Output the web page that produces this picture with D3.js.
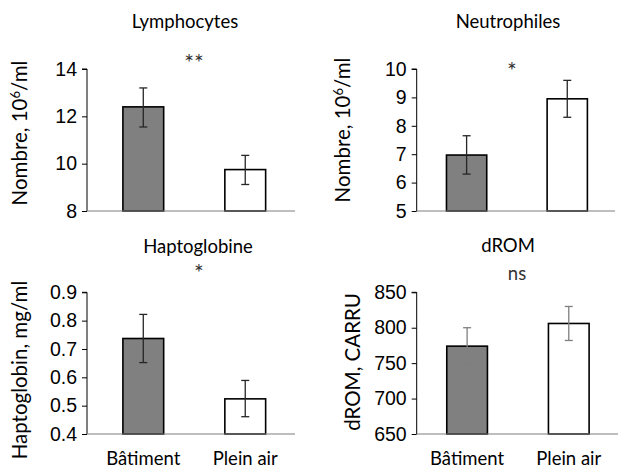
<!DOCTYPE html>
<html>
<head>
<meta charset="utf-8">
<script src="https://cdn.jsdelivr.net/npm/d3@7"></script>
<style>
  body { margin: 0; background: #fff; }
  svg { font-family: Lato, "Noto Sans", sans-serif; }
  .tick text { font-size: 19.5px; fill: #000; }
  .title { font-size: 18.5px; }
  .ylabel { font-size: 20.5px; }
  .xlabel { font-size: 18.5px; }
</style>
</head>
<body>
<div id="chart"></div>
<script>
// Data
const groups = ['Bâtiment', 'Plein air'];

const lymphoMean = [12.4, 9.75];
const lymphoLow = [11.55, 9.12];
const lymphoHigh = [13.2, 10.35];
const lymphoTicks = [8, 10, 12, 14];

const neutroMean = [6.97, 8.95];
const neutroLow = [6.3, 8.3];
const neutroHigh = [7.65, 9.6];
const neutroTicks = [5, 6, 7, 8, 9, 10];

const haptoMean = [0.737, 0.524];
const haptoLow = [0.652, 0.461];
const haptoHigh = [0.822, 0.589];
const haptoTicks = [0.4, 0.5, 0.6, 0.7, 0.8, 0.9];

const dromMean = [774, 806];
const dromLow = [748, 782];
const dromHigh = [800, 830];
const dromTicks = [650, 700, 750, 800, 850];

const width = 619;
const height = 470;

const barColours = ['#808080', '#ffffff'];

const svg = d3.select("#chart").append("svg")
    .attr("width", width)
    .attr("height", height)
    .attr("viewBox", [0, 0, width, height]);

function panel(p) {
  const x = d3.scaleBand()
      .domain(groups)
      .range([p.left, p.right])
      .paddingInner(0.6)
      .paddingOuter(p.padOuter)
      .align(p.align);

  const y = d3.scaleLinear()
      .domain(d3.extent(p.ticks))
      .range([p.bottom, p.top]);

  const g = svg.append("g");

  // y axis
  const yAxis = d3.axisLeft(y)
      .tickValues(p.ticks)
      .tickSize(5)
      .tickPadding(5)
      .tickFormat(p.format);

  g.append("g")
      .attr("transform", `translate(${p.left},0)`)
      .call(yAxis)
      .call(a => a.select(".domain").attr("stroke", "#000").attr("d", `M-5,${p.top}H0V${p.bottom}`))
      .call(a => a.selectAll(".tick line").attr("stroke", "#000"))
      .call(a => a.selectAll(".tick text").attr("font-family", null).attr("font-size", null));

  const rows = groups.map((name, i) => ({
    name: name,
    mean: p.mean[i],
    low: p.low[i],
    high: p.high[i],
    colour: barColours[i]
  }));

  // bars
  g.selectAll("rect.bar")
      .data(rows)
      .enter()
      .append("rect")
      .attr("class", "bar")
      .attr("x", d => x(d.name))
      .attr("width", x.bandwidth())
      .attr("y", d => y(d.mean))
      .attr("height", d => y(y.domain()[0]) - y(d.mean))
      .attr("fill", d => d.colour)
      .attr("stroke", "#000")
      .attr("stroke-width", 1.6);

  // x axis line
  g.append("line")
      .attr("x1", p.left)
      .attr("x2", p.axisEnd)
      .attr("y1", p.bottom)
      .attr("y2", p.bottom)
      .attr("stroke", "#7f7f7f")
      .attr("stroke-width", 1.2);

  // error bars
  const err = g.selectAll("g.err")
      .data(rows)
      .enter()
      .append("g")
      .attr("class", "err")
      .attr("stroke", p.errColour)
      .attr("stroke-width", 1.3);

  const cx = d => x(d.name) + x.bandwidth() / 2;
  err.append("line")
      .attr("x1", cx).attr("x2", cx)
      .attr("y1", d => y(d.low)).attr("y2", d => y(d.high));
  err.append("line")
      .attr("x1", d => cx(d) - 4).attr("x2", d => cx(d) + 4)
      .attr("y1", d => y(d.high)).attr("y2", d => y(d.high));
  err.append("line")
      .attr("x1", d => cx(d) - 4).attr("x2", d => cx(d) + 4)
      .attr("y1", d => y(d.low)).attr("y2", d => y(d.low));

  // titles
  g.append("text")
      .attr("class", "title")
      .attr("x", p.titleX)
      .attr("y", p.titleY)
      .attr("text-anchor", "middle")
      .text(p.title);

  g.append("text")
      .attr("x", p.sigX)
      .attr("y", p.sigY)
      .attr("text-anchor", "middle")
      .attr("font-size", p.sigSize)
      .attr("fill", "#333")
      .text(p.sig);

  // y label
  const yl = g.append("text")
      .attr("class", "ylabel")
      .attr("transform", `translate(${p.ylabelX},${p.ylabelY}) rotate(-90)`)
      .attr("text-anchor", "middle");
  yl.append("tspan").text(p.ylabel[0]);
  if (p.ylabel.length > 1) {
    yl.append("tspan").attr("dy", -7).attr("font-size", 13).text(p.ylabel[1]);
    yl.append("tspan").attr("dy", 7).text(p.ylabel[2]);
  }

  // x labels
  if (p.xlabels) {
    g.selectAll("text.xlabel")
        .data(rows)
        .enter()
        .append("text")
        .attr("class", "xlabel")
        .attr("x", cx)
        .attr("y", p.bottom + 31)
        .attr("text-anchor", "middle")
        .text(d => d.name);
  }
}

panel({
  left: 87, right: 295, axisEnd: 295, padOuter: 0.32, align: 0.55,
  top: 69, bottom: 211,
  mean: lymphoMean, low: lymphoLow, high: lymphoHigh, ticks: lymphoTicks,
  format: d3.format("d"), errColour: "#262626",
  title: "Lymphocytes", titleX: 185, titleY: 28,
  sig: "**", sigX: 194, sigY: 71, sigSize: 23,
  ylabel: ["Nombre, 10", "6", "/ml"], ylabelX: 27, ylabelY: 133, xlabels: false
});

panel({
  left: 416.7, right: 616, axisEnd: 615, padOuter: 0.29, align: 0.51,
  top: 69, bottom: 211,
  mean: neutroMean, low: neutroLow, high: neutroHigh, ticks: neutroTicks,
  format: d3.format("d"), errColour: "#262626",
  title: "Neutrophiles", titleX: 508, titleY: 28,
  sig: "*", sigX: 512, sigY: 79, sigSize: 23,
  ylabel: ["Nombre, 10", "6", "/ml"], ylabelX: 350, ylabelY: 130, xlabels: false
});

panel({
  left: 87, right: 295, axisEnd: 295, padOuter: 0.32, align: 0.55,
  top: 292.3, bottom: 434,
  mean: haptoMean, low: haptoLow, high: haptoHigh, ticks: haptoTicks,
  format: d3.format(".1f"), errColour: "#262626",
  title: "Haptoglobine", titleX: 198, titleY: 253,
  sig: "*", sigX: 199, sigY: 281, sigSize: 23,
  ylabel: ["Haptoglobin, mg/ml"], ylabelX: 27, ylabelY: 370, xlabels: true
});

panel({
  left: 416.7, right: 618, axisEnd: 618, padOuter: 0.29, align: 0.51,
  top: 292.3, bottom: 434,
  mean: dromMean, low: dromLow, high: dromHigh, ticks: dromTicks,
  format: d3.format("d"), errColour: "#7f7f7f",
  title: "dROM", titleX: 508, titleY: 252,
  sig: "ns", sigX: 517, sigY: 280, sigSize: 18.5,
  ylabel: ["dROM, CARRU"], ylabelX: 360, ylabelY: 362, xlabels: true
});
</script>
</body>
</html>
